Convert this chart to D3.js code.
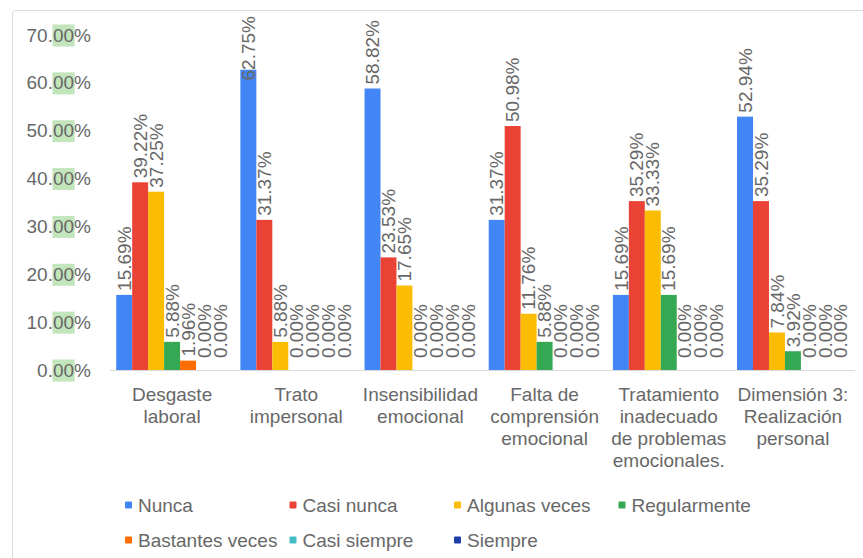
<!DOCTYPE html>
<html>
<head>
<meta charset="utf-8">
<script src="https://cdn.jsdelivr.net/npm/d3@7"></script>
<style>
    body { margin: 0; background: #fff; }
    svg { display: block; font-family: "Liberation Sans", Arial, sans-serif; }
</style>
</head>
<body>
<div id="chart"></div>
<script>

// categories (x axis) and series (legend)
const categories = ["Desgaste laboral", "Trato impersonal", "Insensibilidad emocional",
    "Falta de comprensión emocional", "Tratamiento inadecuado de problemas emocionales.",
    "Dimensión 3: Realización personal"];
const seriesNames = ["Nunca", "Casi nunca", "Algunas veces", "Regularmente",
    "Bastantes veces", "Casi siempre", "Siempre"];

// one array per series, in % (one value per category)
const nunca          = [15.69, 62.75, 58.82, 31.37, 15.69, 52.94];
const casiNunca      = [39.22, 31.37, 23.53, 50.98, 35.29, 35.29];
const algunasVeces   = [37.25, 5.88, 17.65, 11.76, 33.33, 7.84];
const regularmente   = [5.88, 0.00, 0.00, 5.88, 15.69, 3.92];
const bastantesVeces = [1.96, 0.00, 0.00, 0.00, 0.00, 0.00];
const casiSiempre    = [0.00, 0.00, 0.00, 0.00, 0.00, 0.00];
const siempre        = [0.00, 0.00, 0.00, 0.00, 0.00, 0.00];

const yTicks = [0, 10, 20, 30, 40, 50, 60, 70];

const seriesValues = [nunca, casiNunca, algunasVeces, regularmente, bastantesVeces, casiSiempre, siempre];
const colors = ["#4285f4", "#ea4335", "#fbbc04", "#34a853", "#ff6d01", "#46bdc6", "#1f3fa8"];

const width = 863, height = 558;
const textColor = "#686868";
const fontSize = 19;

let svg = d3.select("#chart").append("svg")
    .attr("width", width)
    .attr("height", height);

// card border
svg.append("rect")
    .attr("x", 12.5).attr("y", 10.5)
    .attr("width", 900).attr("height", 600)
    .attr("rx", 3)
    .attr("fill", "#fff")
    .attr("stroke", "#dadada");

let plot = {left: 110, right: 855, top: 35, bottom: 370};

let y = d3.scaleLinear()
    .domain([0, 70])
    .range([plot.bottom, plot.top]);

let x0 = d3.scaleBand()
    .domain(categories)
    .range([plot.left, plot.right])
    .paddingInner(0.1)
    .paddingOuter(0.05);

let x1 = d3.scaleBand()
    .domain(seriesNames)
    .range([0, x0.bandwidth()]);

// y axis - labels only
let yAxis = svg.append("g")
    .attr("transform", `translate(${plot.left},0)`)
    .call(d3.axisLeft(y).tickValues(yTicks).tickSize(0).tickPadding(19).tickFormat(d => d.toFixed(2) + "%"));
yAxis.select(".domain").remove();
yAxis.selectAll("text")
    .attr("font-size", fontSize)
    .attr("font-family", null)
    .attr("fill", textColor)
    .each(function(d) {
        // split "70.00%" so the decimals get the green highlight
        let t = d3.select(this);
        t.text(null);
        t.append("tspan").text(d.toFixed(0) + ".");
        t.append("tspan").text("00");
        t.append("tspan").text("%");
        let node = this;
        let n = d.toFixed(0).length + 1;
        let a = node.getExtentOfChar(n), b = node.getExtentOfChar(n + 1);
        d3.select(node.parentNode).insert("rect", "text")
            .attr("x", a.x - 0.5)
            .attr("y", -11)
            .attr("width", b.x + b.width - a.x + 1)
            .attr("height", 22)
            .attr("fill", "#c2e5bc");
    });

// x axis baseline + wrapped category labels
let xAxis = svg.append("g")
    .attr("transform", `translate(0,${plot.bottom})`)
    .call(d3.axisBottom(x0).tickSize(0).tickPadding(18));
xAxis.select(".domain")
    .attr("stroke", "#d9d9d9")
    .attr("d", `M${plot.left},0.5H${plot.right}`);
xAxis.selectAll("text")
    .attr("font-size", fontSize)
    .attr("font-family", null)
    .attr("fill", textColor)
    .call(wrap, 120);

function wrap(texts, maxWidth) {
    texts.each(function() {
        let text = d3.select(this),
            words = text.text().split(/\s+/),
            yy = +text.attr("y"),
            dy = parseFloat(text.attr("dy")),
            line = [],
            lineNo = 0,
            tspan = text.text(null).append("tspan").attr("x", 0).attr("y", yy).attr("dy", dy + "em");
        words.forEach(word => {
            line.push(word);
            tspan.text(line.join(" "));
            if (tspan.node().getComputedTextLength() > maxWidth && line.length > 1) {
                line.pop();
                tspan.text(line.join(" "));
                line = [word];
                lineNo++;
                tspan = text.append("tspan")
                    .attr("x", 0)
                    .attr("y", yy + lineNo * 22)
                    .attr("dy", dy + "em")
                    .text(word);
            }
        });
    });
}

// bars
let groups = svg.selectAll(".group")
    .data(categories)
    .enter().append("g")
    .attr("class", "group")
    .attr("transform", d => `translate(${x0(d)},0)`);

let cells = groups.selectAll(".cell")
    .data((c, ci) => seriesNames.map((s, si) => ({series: s, color: colors[si], value: seriesValues[si][ci]})))
    .enter();

cells.append("rect")
    .attr("x", d => x1(d.series))
    .attr("y", d => y(d.value))
    .attr("width", x1.bandwidth())
    .attr("height", d => y(0) - y(d.value))
    .attr("fill", d => d.color);

// rotated value labels
cells.append("text")
    .attr("font-size", fontSize)
    .attr("fill", textColor)
    .attr("dy", "0.35em")
    .text(d => d.value.toFixed(2) + "%")
    .each(function(d) {
        let len = this.getComputedTextLength();
        let start = Math.min(y(d.value) - 4, y(0) - 12);
        start = Math.max(start, 16 + len);   // keep inside the card
        let cx = x1(d.series) + x1.bandwidth() / 2;
        d3.select(this).attr("transform", `translate(${cx},${start}) rotate(-90)`);
    });

// legend
let legend = svg.selectAll(".legend")
    .data(seriesNames)
    .enter().append("g")
    .attr("class", "legend")
    .attr("transform", (d, i) => `translate(${125 + (i % 4) * 164.5},${505 + Math.floor(i / 4) * 35})`);

legend.append("rect")
    .attr("x", 0).attr("y", -3.5)
    .attr("width", 7).attr("height", 7)
    .attr("rx", 1)
    .attr("fill", (d, i) => colors[i]);

legend.append("text")
    .attr("x", 13)
    .attr("dy", "0.35em")
    .attr("font-size", fontSize)
    .attr("fill", textColor)
    .text(d => d);

</script>
</body>
</html>
